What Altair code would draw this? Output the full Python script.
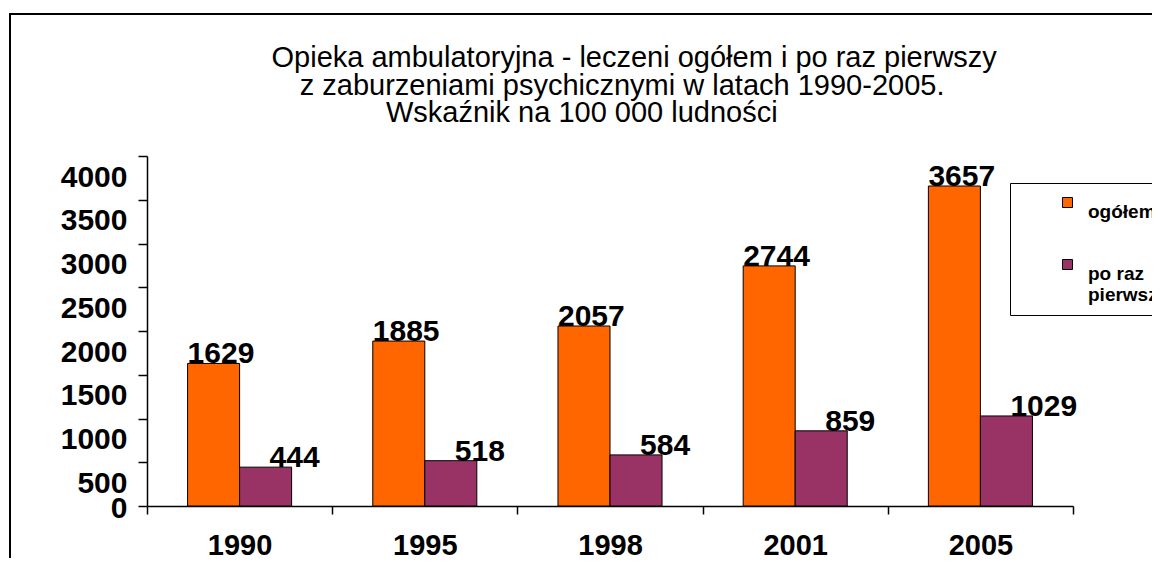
import altair as alt
import pandas as pd

years = ["1990", "1995", "1998", "2001", "2005"]
ogolem = [1629, 1885, 2057, 2744, 3657]
pierwszy = [444, 518, 584, 859, 1029]
series_names = ["ogółem", "po raz pierwszy"]
colors = ["#FF6600", "#993366"]
y_ticks = [0, 500, 1000, 1500, 2000, 2500, 3000, 3500, 4000]
NB = "\u00a0"
ZW = "\u200b"
title_lines = [
    ZW + NB * 6 + "Opieka ambulatoryjna - leczeni ogółem i po raz pierwszy",
    ZW + NB * 3 + "z zaburzeniami psychicznymi w latach 1990-2005.",
    "Wskaźnik na 100 000 ludności" + NB * 7 + ZW,
]

rows = []
for i, yr in enumerate(years):
    rows.append({"rok": yr, "seria": series_names[0], "wartosc": ogolem[i]})
    rows.append({"rok": yr, "seria": series_names[1], "wartosc": pierwszy[i]})
df = pd.DataFrame(rows)

FONT = "Liberation Sans"

x_enc = alt.X(
    "rok:N", sort=years,
    scale=alt.Scale(paddingInner=0, paddingOuter=0),
    axis=alt.Axis(title=None, labelAngle=0, tickBand="extent",
                  labelFontSize=29, labelFontWeight="bold", labelFont=FONT,
                  labelColor="black", labelPadding=17, labelBaseline="top",
                  tickSize=8, tickColor="black", tickWidth=1.5,
                  domainColor="black", domainWidth=1.5, grid=False),
)
xoff = alt.XOffset("seria:N", sort=series_names,
                   scale=alt.Scale(paddingInner=0, paddingOuter=0.78))
y_enc = alt.Y(
    "wartosc:Q",
    scale=alt.Scale(domain=[0, 4000], nice=False),
    axis=alt.Axis(title=None, values=y_ticks, format="d", labelFontSize=30,
                  labelFontWeight="bold", labelFont=FONT, labelColor="black",
                  labelPadding=11, labelOverlap=False, labelFlush=False,
                  labelOffset={"condition": {"test": "datum.value === 0", "value": 2}, "value": 21},
                  tickSize=9, tickColor="black", tickWidth=1.5,
                  domainColor="black", domainWidth=1.5, grid=False),
)

base = alt.Chart(df)

bars = base.mark_bar(stroke="black", strokeWidth=1).encode(
    x=x_enc, xOffset=xoff, y=y_enc,
    color=alt.Color(
        "seria:N", sort=series_names,
        scale=alt.Scale(domain=series_names, range=colors),
        legend=alt.Legend(
            title=None, orient="none", legendX=863, legendY=27,
            direction="vertical", symbolType="square", symbolSize=100,
            symbolStrokeColor="black", symbolStrokeWidth=1, symbolOffset=38,
            labelFont=FONT, labelFontSize=19, labelFontWeight="bold",
            labelColor="black", labelBaseline="top", labelOffset=11,
            labelExpr="datum.label == 'po raz pierwszy' ? ['po raz', 'pierwszy'] : datum.label",
            strokeColor="black", padding=10, rowPadding=33, labelLimit=300,
        ),
    ),
)

text_common = dict(align="left", baseline="alphabetic", fontSize=30,
                   fontWeight="bold", font=FONT, color="black")

lab_og = base.transform_filter(alt.datum.seria == series_names[0]).mark_text(
    dx=-26, **text_common
).encode(x=x_enc, xOffset=xoff, y=y_enc, text=alt.Text("wartosc:Q", format="d"))

lab_pp = base.transform_filter(alt.datum.seria == series_names[1]).mark_text(
    dx=4, **text_common
).encode(x=x_enc, xOffset=xoff, y=y_enc, text=alt.Text("wartosc:Q", format="d"))

border = alt.Chart(alt.Data(values=[{"k": 1}])).mark_rect(
    fill="transparent", stroke="black", strokeWidth=2
).encode(x=alt.value(-137), x2=alt.value(1300), y=alt.value(-142), y2=alt.value(700))

chart = alt.layer(border, bars, lab_og, lab_pp).properties(
    width=926, height=350,
    padding={"left": 139, "top": 148, "right": 79, "bottom": 52},
    autosize=alt.AutoSizeParams(type="none"),
    background="white",
    title=alt.TitleParams(text=title_lines, fontSize=29, font=FONT,
                          fontWeight="normal", color="black", lineHeight=27.5,
                          anchor="middle", dy=119),
).configure_view(stroke="transparent")

chart.save("out.html", embed_options={"renderer": "svg", "actions": False})
